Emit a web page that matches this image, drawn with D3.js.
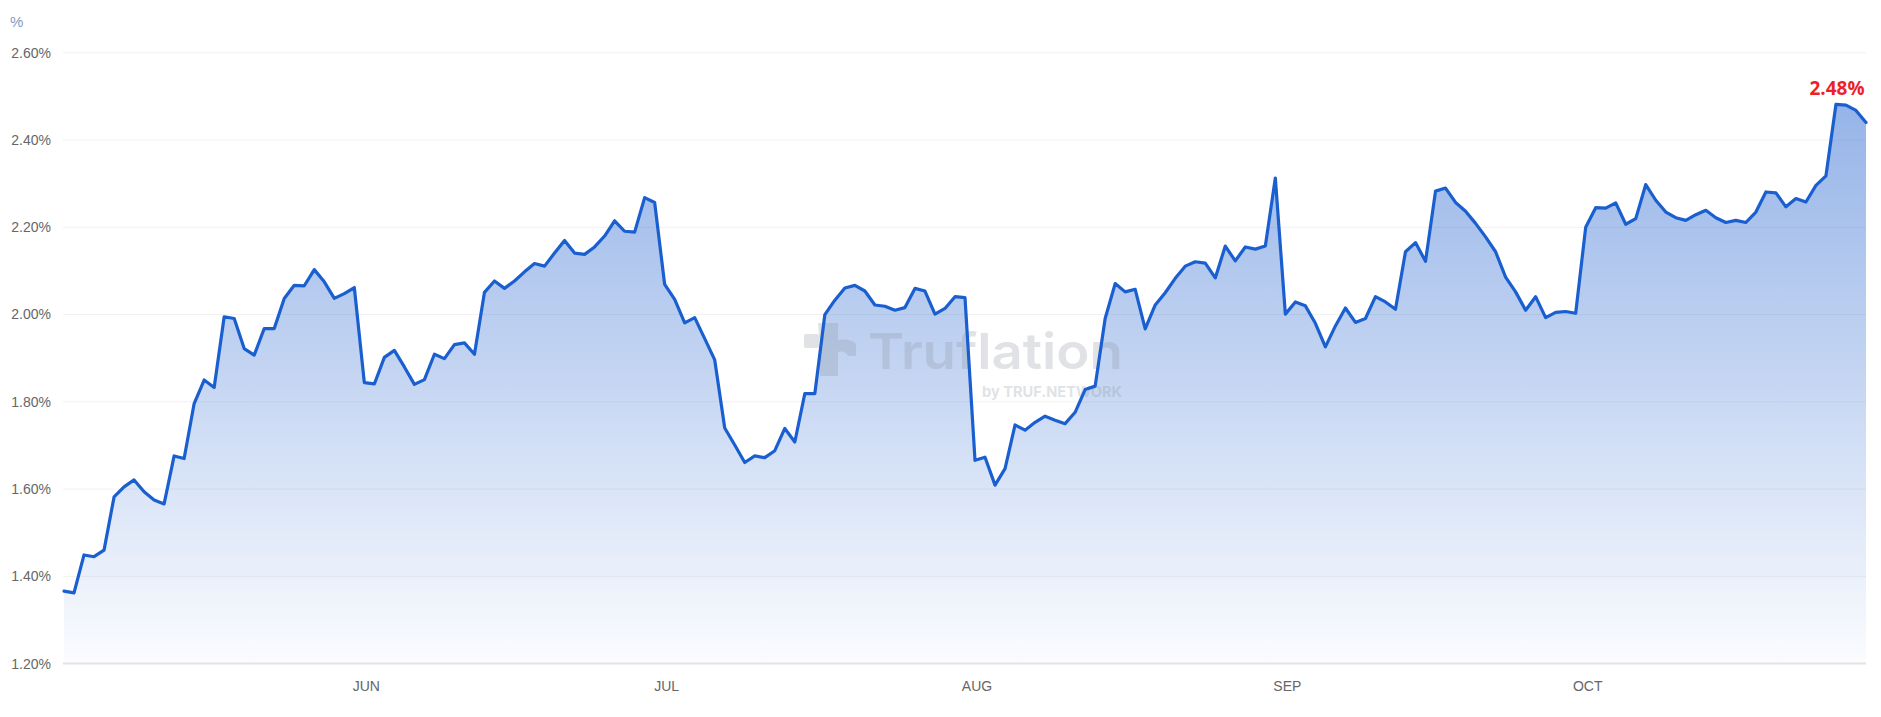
<!DOCTYPE html>
<html>
<head>
<meta charset="utf-8">
<script src="https://cdn.jsdelivr.net/npm/d3@7"></script>
<style>
  html, body { margin: 0; padding: 0; background: #fff; }
  svg { display: block; }
</style>
</head>
<body>
<svg id="chart" width="1881" height="717"></svg>
<script>
// ---- Data ----
const startDate = "2025-05-02";
const endDate = "2025-10-29";
const values = [
  1.366, 1.362, 1.449, 1.445, 1.460, 1.582, 1.605, 1.621, 1.594, 1.575,
  1.566, 1.676, 1.670, 1.796, 1.850, 1.833, 1.995, 1.991, 1.922, 1.907,
  1.968, 1.968, 2.037, 2.067, 2.066, 2.103, 2.075, 2.037, 2.048, 2.062,
  1.844, 1.841, 1.902, 1.918, 1.880, 1.840, 1.851, 1.909, 1.899, 1.931,
  1.935, 1.909, 2.051, 2.077, 2.060, 2.077, 2.098, 2.117, 2.111, 2.141,
  2.170, 2.141, 2.138, 2.155, 2.180, 2.215, 2.191, 2.189, 2.268, 2.257,
  2.069, 2.035, 1.981, 1.993, 1.945, 1.896, 1.740, 1.701, 1.661, 1.676,
  1.672, 1.688, 1.739, 1.708, 1.819, 1.819, 2.000, 2.033, 2.061, 2.067,
  2.054, 2.022, 2.019, 2.010, 2.016, 2.060, 2.054, 2.001, 2.014, 2.041,
  2.039, 1.666, 1.673, 1.609, 1.647, 1.747, 1.735, 1.753, 1.767, 1.758,
  1.750, 1.776, 1.828, 1.836, 1.991, 2.071, 2.052, 2.058, 1.967, 2.022,
  2.050, 2.083, 2.111, 2.121, 2.118, 2.084, 2.157, 2.123, 2.155, 2.150,
  2.157, 2.313, 2.001, 2.029, 2.020, 1.980, 1.926, 1.974, 2.015, 1.982,
  1.991, 2.041, 2.029, 2.012, 2.144, 2.165, 2.122, 2.283, 2.290, 2.257,
  2.237, 2.209, 2.178, 2.144, 2.086, 2.052, 2.010, 2.041, 1.993, 2.005,
  2.007, 2.003, 2.200, 2.245, 2.244, 2.256, 2.207, 2.220, 2.298, 2.262,
  2.235, 2.222, 2.216, 2.229, 2.239, 2.222, 2.211, 2.216, 2.211, 2.235,
  2.281, 2.279, 2.247, 2.266, 2.258, 2.296, 2.318, 2.482, 2.480, 2.468,
  2.440
];
const yTicks = [1.2, 1.4, 1.6, 1.8, 2.0, 2.2, 2.4, 2.6];
const monthTicks = ["2025-06-01", "2025-07-01", "2025-08-01", "2025-09-01", "2025-10-01"];
const monthLabels = ["JUN", "JUL", "AUG", "SEP", "OCT"];
const unitLabel = "%";
const peakLabel = "2.48%";

// ---- Build ----
const parse = d3.utcParse("%Y-%m-%d");
const t0 = parse(startDate);
const data = values.map((v, i) => ({ date: d3.utcDay.offset(t0, i), value: v }));

const svg = d3.select("#chart");
const W = 1881, H = 717;
const m = { left: 64, right: 15, top: 52.8, bottom: 717 - 663.6 };

const x = d3.scaleUtc().domain([t0, parse(endDate)]).range([m.left, W - m.right]);
const y = d3.scaleLinear().domain([1.2, 2.6]).range([H - m.bottom, m.top]);

// gradient
const defs = svg.append("defs");
const grad = defs.append("linearGradient")
  .attr("id", "areaGrad").attr("gradientUnits", "userSpaceOnUse")
  .attr("x1", 0).attr("x2", 0).attr("y1", y(2.5)).attr("y2", y(1.2));
grad.append("stop").attr("offset", "0%").attr("stop-color", "#2a67d0").attr("stop-opacity", 0.50);
grad.append("stop").attr("offset", "50%").attr("stop-color", "#2a67d0").attr("stop-opacity", 0.27);
grad.append("stop").attr("offset", "100%").attr("stop-color", "#2a67d0").attr("stop-opacity", 0.02);

// gridlines
svg.append("g").selectAll("line").data(yTicks.slice(1)).join("line")
  .attr("x1", m.left - 1).attr("x2", W - m.right)
  .attr("y1", d => y(d)).attr("y2", d => y(d))
  .attr("stroke", "#f1f1f1").attr("stroke-width", 1);

// area
const area = d3.area().x(d => x(d.date)).y0(y(1.2)).y1(d => y(d.value)).curve(d3.curveLinear);
svg.append("path").datum(data).attr("d", area).attr("fill", "url(#areaGrad)");

// watermark
const wm = svg.append("g").attr("opacity", 0.26).attr("fill", "#8a939e");
wm.append("rect").attr("x", 804).attr("y", 334).attr("width", 15).attr("height", 14).attr("rx", 2);
wm.append("path").attr("d", "M818,323 L838,323 L838,376 L820,376 L820,348 Z");
wm.append("path").attr("d", "M836,340 Q852,338 856,344 L856,356 L848,356 Q846,350 836,352 Z");
wm.append("text").attr("x", 868).attr("y", 369)
  .attr("font-family", "Inter, 'Open Sans', sans-serif").attr("font-weight", 600)
  .attr("font-size", 50).attr("textLength", 255).attr("lengthAdjust", "spacingAndGlyphs")
  .text("Truflation");
wm.append("text").attr("x", 982).attr("y", 397)
  .attr("font-family", "Inter, 'Open Sans', sans-serif").attr("font-weight", 700)
  .attr("font-size", 15).attr("textLength", 140).attr("lengthAdjust", "spacingAndGlyphs")
  .text("by TRUF.NETWORK");

// baseline
svg.append("line").attr("x1", m.left - 1).attr("x2", W - m.right)
  .attr("y1", y(1.2)).attr("y2", y(1.2))
  .attr("stroke", "#e3e3e3").attr("stroke-width", 2);

// line
const line = d3.line().x(d => x(d.date)).y(d => y(d.value)).curve(d3.curveLinear);
svg.append("path").datum(data).attr("d", line)
  .attr("fill", "none").attr("stroke", "#1a5fcf").attr("stroke-width", 3.2)
  .attr("stroke-linejoin", "round").attr("stroke-linecap", "round");

// y axis labels
svg.append("g").selectAll("text").data(yTicks).join("text")
  .attr("x", 51).attr("y", d => y(d)).attr("dy", "0.35em")
  .attr("text-anchor", "end")
  .attr("font-family", "'Liberation Sans', Arial, sans-serif").attr("font-size", 14)
  .attr("fill", "#666").text(d => d.toFixed(2) + "%");

// unit label
svg.append("text").attr("x", 10).attr("y", 27)
  .attr("font-family", "'Liberation Sans', Arial, sans-serif").attr("font-size", 15)
  .attr("fill", "#7f9bc2").text(unitLabel);

// x axis labels
svg.append("g").selectAll("text").data(monthTicks).join("text")
  .attr("x", (d) => x(parse(d)) + 2).attr("y", 686).attr("dy", "0.35em")
  .attr("text-anchor", "middle")
  .attr("font-family", "'Liberation Sans', Arial, sans-serif").attr("font-size", 14)
  .attr("fill", "#666").text((d, i) => monthLabels[i]);

// peak label
const peak = data.reduce((a, b) => (b.value > a.value ? b : a));
svg.append("text").attr("x", x(peak.date) + 1).attr("y", 95)
  .attr("text-anchor", "middle")
  .attr("font-family", "'Open Sans', 'Noto Sans', sans-serif").attr("font-weight", 700)
  .attr("font-size", 19).attr("fill", "#ee1f2b").text(peakLabel);
</script>
</body>
</html>
